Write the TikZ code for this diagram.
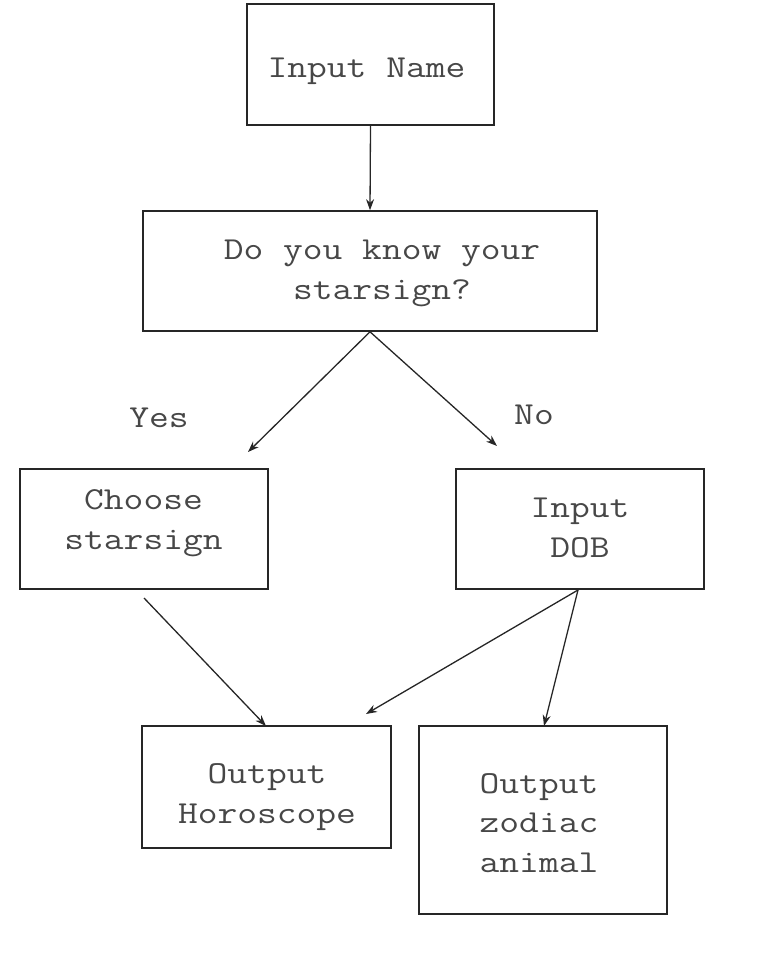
\documentclass[tikz,border=0pt]{standalone}
\usepackage{fontspec}
\setmonofont{Latin Modern Mono}[FakeStretch=1.2]
\usetikzlibrary{arrows.meta}
\begin{document}
\begin{tikzpicture}[x=1pt,y=-1pt,
  box/.style={draw=black!85,line width=1.6pt,rectangle,inner sep=0pt},
  txt/.style={anchor=base,align=center,inner sep=0pt,text=black!72,
    font=\ttfamily\fontsize{32}{39.5}\selectfont},
  arr/.style={draw=black!85,line width=1.3pt,-{Stealth[length=11pt,width=8pt]}}]
\useasboundingbox (0,0) rectangle (770,960);
% boxes
\node[box,minimum width=247pt,minimum height=121pt] (name) at (370.5,64.5) {};
\node[box,minimum width=454pt,minimum height=120pt] (know) at (370,271) {};
\node[box,minimum width=248pt,minimum height=120pt] (choose) at (144,529) {};
\node[box,minimum width=248pt,minimum height=120pt] (dob) at (580,529) {};
\node[box,minimum width=249pt,minimum height=122pt] (horo) at (266.5,787) {};
\node[box,minimum width=248pt,minimum height=188pt] (zod) at (543,820) {};
% texts (base anchor = baseline of the last line)
\node[txt] (nametxt) at (366.5,78) {Input Name};
\node[txt] (knowtxt) at (382,299) {Do you know your\\starsign?};
\node[txt] (choosetxt) at (143.5,549) {Choose\\starsign};
\node[txt] (dobtxt) at (580,557) {Input\\DOB};
\node[txt] (horotxt) at (267,823) {Output\\Horoscope};
\node[txt] (zodtxt) at (539,872) {Output\\zodiac\\animal};
\node[txt] (yes) at (159,427) {Yes};
\node[txt] (no) at (534,424) {No};
% connector ends
\coordinate (t1) at (248,452);
\coordinate (t2) at (497,446);
\coordinate (s3) at (144,598);
\coordinate (t3) at (266,726);
\coordinate (s4) at (578,590);
\coordinate (t4) at (366,714);
\coordinate (t5) at (544,726);
\draw[arr] (name.south) -- (know.north);
\draw[arr] (know.south) -- (t1);
\draw[arr] (know.south) -- (t2);
\draw[arr] (s3) -- (t3);
\draw[arr] (s4) -- (t4);
\draw[arr] (s4) -- (t5);
\end{tikzpicture}
\end{document}
